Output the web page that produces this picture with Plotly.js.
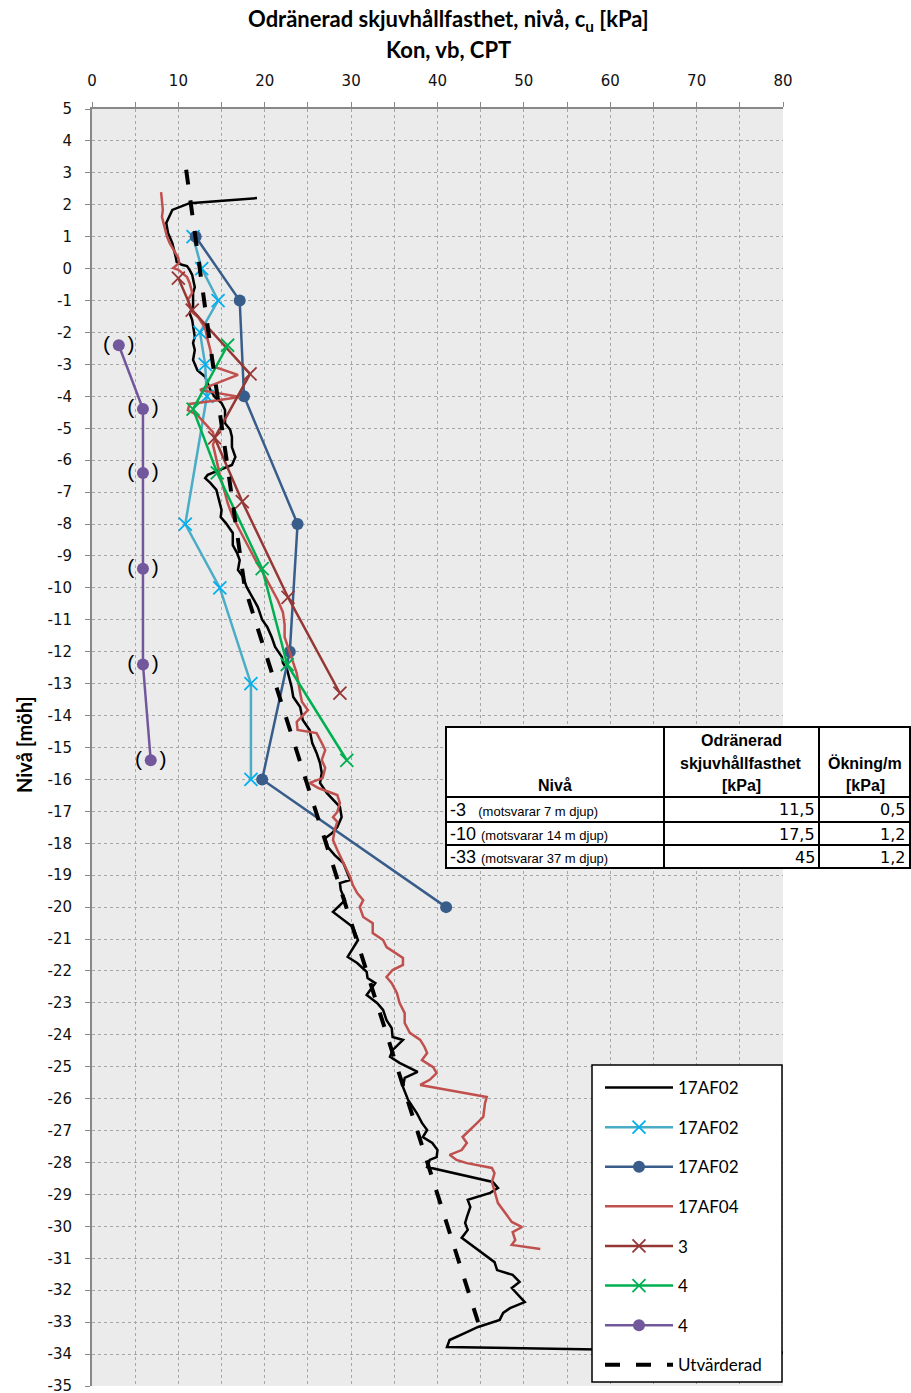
<!DOCTYPE html>
<html>
<head>
<meta charset="utf-8">
<script src="https://cdn.plot.ly/plotly-3.0.1.min.js"></script>
<style>
html,body{margin:0;padding:0;background:#fff;}
#chart{width:911px;height:1393px;}
</style>
</head>
<body>
<div id="chart"></div>
<script>
// ---------- DATA ----------
// 17AF02 CPT (black solid)
const cptKpa = [19.1,11.3,9.3,8.6,8.8,9.3,9.7,9.8,10.4,11.0,11.3,11.6,11.9,11.7,11.7,11.3,11.6,11.7,11.9,11.7,11.9,11.7,12.2,13.1,13.7,14.2,15.0,15.4,15.4,16.0,16.2,16.2,16.6,16.2,14.8,13.4,13.1,13.7,14.4,14.7,15.0,14.9,15.5,16.3,16.3,16.8,17.1,16.9,17.5,17.9,18.6,19.2,19.7,20.3,20.8,21.2,22.0,22.1,22.6,23.1,23.3,24.1,24.4,25.2,25.5,26.0,26.4,26.6,26.4,27.2,28.7,28.9,28.4,27.8,27.0,27.3,28.1,29.1,29.9,28.7,28.8,29.3,27.9,29.1,30.2,30.8,29.6,30.7,31.8,31.9,32.8,31.8,33.0,33.7,34.1,34.7,34.8,36.0,34.8,34.5,35.6,37.7,36.2,36.0,36.6,37.6,38.2,38.8,38.3,39.4,40.0,39.9,39.1,38.8,46.4,47.0,46.1,43.5,43.8,43.4,43.2,43.5,42.8,46.6,46.9,48.7,49.5,48.6,50.1,48.4,47.6,47.2,44.7,43.4,41.4,41.1,82.0];
const cptLevel = [2.21,2.05,1.84,1.43,1.12,0.8,0.36,0.21,0.12,0.08,-0.04,-0.2,-0.58,-0.76,-1.2,-1.39,-1.61,-1.83,-2.14,-2.33,-2.55,-2.86,-3.18,-3.39,-3.8,-4.02,-4.21,-4.43,-4.84,-5.05,-5.27,-5.59,-5.9,-6.15,-6.31,-6.46,-6.56,-6.71,-6.93,-7.25,-7.56,-7.78,-7.97,-8.28,-8.66,-8.91,-9.13,-9.44,-9.66,-9.97,-10.29,-10.6,-11.0,-11.23,-11.54,-11.85,-12.17,-12.35,-12.57,-13.1,-13.42,-13.73,-14.14,-14.45,-14.86,-15.17,-15.49,-15.8,-16.11,-16.43,-16.86,-17.18,-17.49,-17.68,-17.84,-18.12,-18.37,-18.62,-19.15,-19.25,-19.46,-19.78,-20.15,-20.4,-20.62,-21.03,-21.56,-21.75,-22.03,-22.22,-22.38,-22.75,-23.0,-23.22,-23.54,-23.79,-24.07,-24.16,-24.48,-24.69,-24.88,-25.16,-25.35,-25.63,-26.04,-26.45,-26.76,-26.98,-27.2,-27.39,-27.61,-27.83,-27.92,-28.14,-28.61,-28.8,-28.95,-29.17,-29.39,-29.71,-29.89,-30.11,-30.36,-31.12,-31.37,-31.52,-31.74,-31.93,-32.37,-32.56,-32.71,-32.93,-33.15,-33.31,-33.56,-33.78,-33.96];

// 17AF02 (light blue, x markers)
const af02aKpa = [11.7,12.7,14.6,12.5,13.1,13.3,10.8,14.8,18.4,18.4];
const af02aLevel = [1,0,-1,-2,-3,-4,-8,-10,-13,-16];

// 17AF02 (dark blue, circles)
const af02bKpa = [12.0,17.1,17.6,23.8,22.9,19.7,41.0];
const af02bLevel = [1,-1,-4,-8,-12,-16,-20];

// 17AF04 (red)
const af04Kpa = [8.0,8.1,8.2,8.1,8.4,8.7,9.0,9.3,9.6,10.0,10.1,9.4,10.0,11.0,11.3,11.6,11.1,11.3,11.7,12.3,12.7,13.1,13.4,13.7,13.9,14.2,16.9,13.9,12.5,14.6,17.1,14.6,11.3,11.1,12.2,12.7,13.4,14.0,14.2,14.0,14.2,14.5,14.8,15.4,15.7,16.3,16.9,17.5,18.3,19.1,19.8,20.6,21.5,22.1,22.3,22.3,22.7,23.1,23.7,24.1,24.3,25.0,23.7,23.8,26.0,26.6,27.0,26.6,27.0,26.7,25.2,26.2,28.4,28.7,28.4,27.9,28.4,28.1,27.9,28.4,29.1,29.9,30.2,30.7,31.4,31.0,31.4,32.5,32.5,33.7,34.1,35.1,36.0,36.0,34.8,34.1,34.7,35.3,35.6,36.2,36.2,36.8,38.0,38.5,38.8,38.2,38.8,39.5,39.9,39.1,38.0,45.7,45.5,45.3,44.6,43.8,42.9,43.4,42.8,41.4,42.2,43.4,46.3,46.6,46.3,47.0,47.8,48.6,49.8,48.7,49.0,48.6,51.9];
const af04Level = [2.4,2.15,1.84,1.62,1.3,0.99,0.8,0.65,0.49,0.33,0.18,0.02,-0.04,-0.26,-0.45,-0.76,-0.98,-1.2,-1.39,-1.52,-1.7,-1.86,-2.24,-2.55,-2.86,-3.08,-3.33,-3.65,-3.8,-3.9,-4.02,-4.12,-4.24,-4.43,-4.59,-4.74,-4.96,-5.12,-5.37,-5.52,-5.74,-6.09,-6.46,-7.03,-7.34,-7.78,-8.09,-8.41,-8.81,-9.22,-9.53,-9.91,-10.38,-10.76,-11.16,-11.54,-11.88,-12.17,-12.67,-13.29,-13.57,-13.83,-14.2,-14.45,-14.55,-14.86,-15.08,-15.39,-15.64,-15.96,-16.11,-16.27,-16.49,-16.74,-17.02,-17.18,-17.33,-17.58,-17.9,-18.21,-18.62,-19.06,-19.31,-19.56,-19.78,-20.0,-20.31,-20.5,-20.81,-21.03,-21.25,-21.44,-21.59,-21.81,-21.97,-22.19,-22.38,-22.69,-23.0,-23.32,-23.63,-23.94,-24.16,-24.38,-24.57,-24.79,-24.88,-25.01,-25.2,-25.41,-25.57,-25.95,-26.14,-26.57,-26.76,-26.98,-27.2,-27.39,-27.61,-27.76,-27.92,-28.02,-28.17,-28.33,-28.61,-29.27,-29.58,-29.86,-30.02,-30.18,-30.43,-30.58,-30.71];

// 3 (dark red, x markers)
const s3Kpa = [10.0,11.6,18.3,14.2,17.4,22.7,28.7];
const s3Level = [-0.3,-1.3,-3.3,-5.3,-7.3,-10.3,-13.3];

// 4 (green, x markers)
const s4gKpa = [15.7,11.7,14.5,19.7,22.6,29.5];
const s4gLevel = [-2.4,-4.4,-6.4,-9.4,-12.4,-15.4];

// 4 (purple, circles, labelled "( )")
const s4pKpa = [3.1,5.9,5.9,5.9,5.9,6.8];
const s4pLevel = [-2.4,-4.4,-6.4,-9.4,-12.4,-15.4];
const s4pLabel = '(\u00a0\u00a0\u00a0)';

// Utvärderad (dashed)
const evalKpa = [10.9,14.0,17.7,44.7];
const evalLevel = [3.1,-3.0,-10.0,-33.0];

// Axis ticks
const xTicks = [0,10,20,30,40,50,60,70,80];
const yTicks = []; for (let v = 5; v >= -35; v--) yTicks.push(v);

// Titles
const titleLine1 = 'Odränerad skjuvhållfasthet, nivå, c<sub>u</sub> [kPa]';
const titleLine2 = 'Kon, vb, CPT';
const yTitle = 'Nivå [möh]';

// Table
const tblHeader = ['Nivå', 'Odränerad', 'skjuvhållfasthet', '[kPa]', 'Ökning/m', '[kPa]'];
const tblLevel = ['-3', '-10', '-33'];
const tblNote = ['(motsvarar 7 m djup)', '(motsvarar 14 m djup)', '(motsvarar 37 m djup)'];
const tblStrength = ['11,5', '17,5', '45'];
const tblIncrease = ['0,5', '1,2', '1,2'];

// ---------- LAYOUT HELPERS ----------
const L = 92, R = 783, T = 109, B = 1386;
const fx = px => (px - L) / (R - L);
const fy = py => (B - py) / (B - T);

const boldFont = 'Lato, "Liberation Sans", sans-serif';
const legendFont = 'Lato, "Liberation Sans", sans-serif';

const traces = [
  {x: cptKpa, y: cptLevel, name: '17AF02', mode: 'lines', legendgroup: 'a',
   line: {color: '#000000', width: 2.5}},
  {x: af02aKpa, y: af02aLevel, name: '17AF02', mode: 'lines+markers', legendgroup: 'b',
   line: {color: '#4bacc6', width: 2.5},
   marker: {symbol: 'x-thin', size: 13, line: {width: 1.8, color: '#00b0f0'}, color: '#00b0f0'}},
  {x: af02bKpa, y: af02bLevel, name: '17AF02', mode: 'lines+markers', legendgroup: 'c',
   line: {color: '#385d8a', width: 2.5},
   marker: {symbol: 'circle', size: 12, color: '#385d8a'}},
  {x: af04Kpa, y: af04Level, name: '17AF04', mode: 'lines', legendgroup: 'd',
   line: {color: '#c0504d', width: 2.5}},
  {x: s3Kpa, y: s3Level, name: '3', mode: 'lines+markers', legendgroup: 'e',
   line: {color: '#953735', width: 2.5},
   marker: {symbol: 'x-thin', size: 13, line: {width: 1.8, color: '#953735'}, color: '#953735'}},
  {x: s4gKpa, y: s4gLevel, name: '4', mode: 'lines+markers', legendgroup: 'f',
   line: {color: '#00b050', width: 2.5},
   marker: {symbol: 'x-thin', size: 13, line: {width: 1.8, color: '#00b050'}, color: '#00b050'}},
  {x: s4pKpa, y: s4pLevel, name: '4', mode: 'lines+markers', legendgroup: 'g',
   line: {color: '#73579c', width: 2.5},
   marker: {symbol: 'circle', size: 12, color: '#73579c'}},
  {x: s4pKpa, y: s4pLevel, mode: 'text', showlegend: false,
   text: s4pLevel.map(() => s4pLabel), textposition: 'middle center',
   textfont: {family: '"Liberation Sans", Arial, sans-serif', size: 21, color: '#000'}},
  {x: evalKpa, y: evalLevel, name: 'Utvärderad', mode: 'lines', legendgroup: 'h',
   line: {color: '#000000', width: 4, dash: '15px,16px'}}
];

const shapes = [];
const annotations = [];

// Legend box (drawn above traces, legend on top of it)
shapes.push({type: 'rect', xref: 'paper', yref: 'paper', layer: 'above',
  x0: fx(592), x1: fx(782), y0: fy(1382), y1: fy(1065),
  fillcolor: '#ffffff', line: {color: '#000', width: 1.5}});

// Table
const tl = 446, tr = 910, tt = 727, tb = 868;
const c1 = 664, c2 = 819;
const rows = [797, 822, 845];
shapes.push({type: 'rect', xref: 'paper', yref: 'paper', layer: 'above',
  x0: fx(tl), x1: fx(tr), y0: fy(tb), y1: fy(tt),
  fillcolor: '#ffffff', line: {color: '#000', width: 2}});
[c1, c2].forEach(c => shapes.push({type: 'line', xref: 'paper', yref: 'paper', layer: 'above',
  x0: fx(c), x1: fx(c), y0: fy(tb), y1: fy(tt), line: {color: '#000', width: 2}}));
rows.forEach(r => shapes.push({type: 'line', xref: 'paper', yref: 'paper', layer: 'above',
  x0: fx(tl), x1: fx(tr), y0: fy(r), y1: fy(r), line: {color: '#000', width: 2}}));

const hdrFont = {family: '"Liberation Sans", Arial, sans-serif', size: 16, color: '#000'};
const addTxt = (text, px, py, xanchor, font, extra) => annotations.push(Object.assign({
  text, xref: 'paper', yref: 'paper', x: fx(px), y: fy(py), xanchor, yanchor: 'middle',
  showarrow: false, font}, extra || {}));
addTxt('<b>' + tblHeader[0] + '</b>', 555, 786, 'center', hdrFont);
addTxt('<b>' + tblHeader[1] + '</b>', 741, 740, 'center', hdrFont);
addTxt('<b>' + tblHeader[2] + '</b>', 741, 763, 'center', hdrFont);
addTxt('<b>' + tblHeader[3] + '</b>', 741, 786, 'center', hdrFont);
addTxt('<b>' + tblHeader[4] + '</b>', 865, 763, 'center', hdrFont);
addTxt('<b>' + tblHeader[5] + '</b>', 865, 786, 'center', hdrFont);
const rowY = [810, 834, 857];
const valFont = {family: '"DejaVu Sans", sans-serif', size: 16, color: '#000'};
tblLevel.forEach((lv, i) => {
  addTxt(lv + '\u00a0<span style="font-size:13px;font-family:Liberation Sans, Arial">' +
    (i === 0 ? '\u00a0\u00a0' : '') + tblNote[i] + '</span>', 448, rowY[i], 'left',
    {family: '"Liberation Sans", Arial, sans-serif', size: 18, color: '#000'});
  addTxt(tblStrength[i], 817, rowY[i], 'right', valFont);
  addTxt(tblIncrease[i], 907, rowY[i], 'right', valFont);
});

// Chart title (two lines) and y-axis title
const titleFont = {family: boldFont, size: 22, color: '#000'};
addTxt('<b>' + titleLine1 + '</b>', 448, 20, 'center', titleFont);
addTxt('<b>' + titleLine2 + '</b>', 448, 50, 'center', titleFont);
addTxt('<b>' + yTitle + '</b>', 24, 745, 'center', {family: boldFont, size: 20, color: '#000'},
  {textangle: -90});

const tickFont = {family: '"DejaVu Sans", Verdana, sans-serif', size: 15, color: '#111'};
const layout = {
  width: 911, height: 1393,
  margin: {l: L, r: 911 - R, t: T, b: 1393 - B, pad: 0},
  paper_bgcolor: '#ffffff',
  plot_bgcolor: '#ebebeb',
  showlegend: true,
  xaxis: {
    range: [0, 80], side: 'top', tickvals: xTicks, ticktext: xTicks.map(String),
    tickfont: tickFont, ticklabelstandoff: 10, ticklabeloverflow: 'allow',
    ticks: 'outside', ticklen: 5, tickcolor: '#888', tickwidth: 1,
    showline: true, linecolor: '#888', linewidth: 2,
    showgrid: true, gridcolor: '#a6a6a6', griddash: 'dot', gridwidth: 1,
    minor: {dtick: 5, ticks: 'outside', ticklen: 5, tickcolor: '#888', showgrid: true,
            gridcolor: '#a6a6a6', griddash: 'dot', gridwidth: 1},
    zeroline: false, fixedrange: true, automargin: false
  },
  yaxis: {
    range: [-35, 5], tickvals: yTicks, ticktext: yTicks.map(String),
    tickfont: tickFont, ticklabelstandoff: 10, ticklabeloverflow: 'allow',
    ticks: 'outside', ticklen: 5, tickcolor: '#888', tickwidth: 1,
    showline: true, linecolor: '#888', linewidth: 2,
    showgrid: true, gridcolor: '#a6a6a6', griddash: 'dot', gridwidth: 1,
    zeroline: false, fixedrange: true, automargin: false
  },
  legend: {
    x: fx(600), y: fy(1070), xanchor: 'left', yanchor: 'top',
    bgcolor: 'rgba(0,0,0,0)', borderwidth: 0,
    font: {family: legendFont, size: 17, color: '#000'},
    tracegroupgap: 14.5, itemwidth: 68
  },
  shapes, annotations
};

Plotly.newPlot('chart', traces, layout, {staticPlot: true, displayModeBar: false});
</script>
</body>
</html>
